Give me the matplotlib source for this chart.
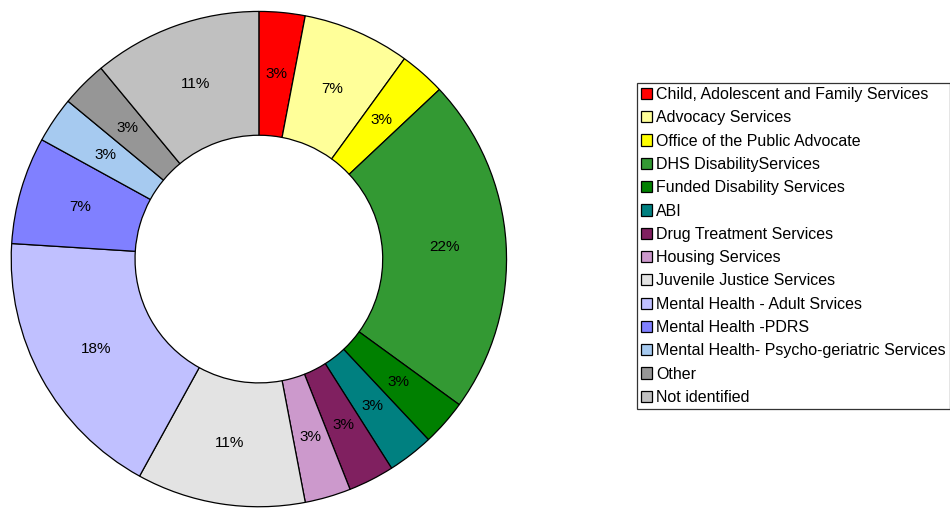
import matplotlib.pyplot as plt

plt.rcParams['font.family'] = ['Liberation Sans', 'DejaVu Sans']

# service categories and their share of referrals (%)
services = [
    'Child, Adolescent and Family Services',
    'Advocacy Services',
    'Office of the Public Advocate',
    'DHS DisabilityServices',
    'Funded Disability Services',
    'ABI',
    'Drug Treatment Services',
    'Housing Services',
    'Juvenile Justice Services',
    'Mental Health - Adult Srvices',
    'Mental Health -PDRS',
    'Mental Health- Psycho-geriatric Services',
    'Other',
    'Not identified',
]
shares = [3, 7, 3, 22, 3, 3, 3, 3, 11, 18, 7, 3, 3, 11]
colors = ['#FF0000', '#FFFF99', '#FFFF00', '#339933', '#008000', '#008080',
          '#802060', '#CC99CC', '#E3E3E3', '#C0C0FF', '#8080FF', '#A6CAF0',
          '#969696', '#C0C0C0']

fig = plt.figure(figsize=(9.5, 5.09), dpi=100)
ax = fig.add_axes([0.0105, 0.002, 0.524, 0.978])

wedges, texts, autotexts = ax.pie(
    shares, colors=colors, startangle=90, counterclock=False,
    autopct='%d%%', pctdistance=0.75,
    wedgeprops=dict(width=0.5, edgecolor='black', linewidth=0.9),
    textprops=dict(fontsize=11, color='black'))
ax.set_xlim(-1.005, 1.005)
ax.set_ylim(-1.005, 1.005)
ax.set_aspect('equal')

# legend box runs off the right edge of the figure
leg = fig.legend(wedges, services, loc='upper left',
                 bbox_to_anchor=(637 / 950, 1 - 83 / 509),
                 fontsize=11.5, frameon=True, fancybox=False,
                 edgecolor='black', handlelength=0.7, handleheight=0.7,
                 handletextpad=0.25, labelspacing=0.52, borderpad=0.25,
                 borderaxespad=0)
leg.get_frame().set_linewidth(0.9)

fig.savefig('out.png', dpi=100)
